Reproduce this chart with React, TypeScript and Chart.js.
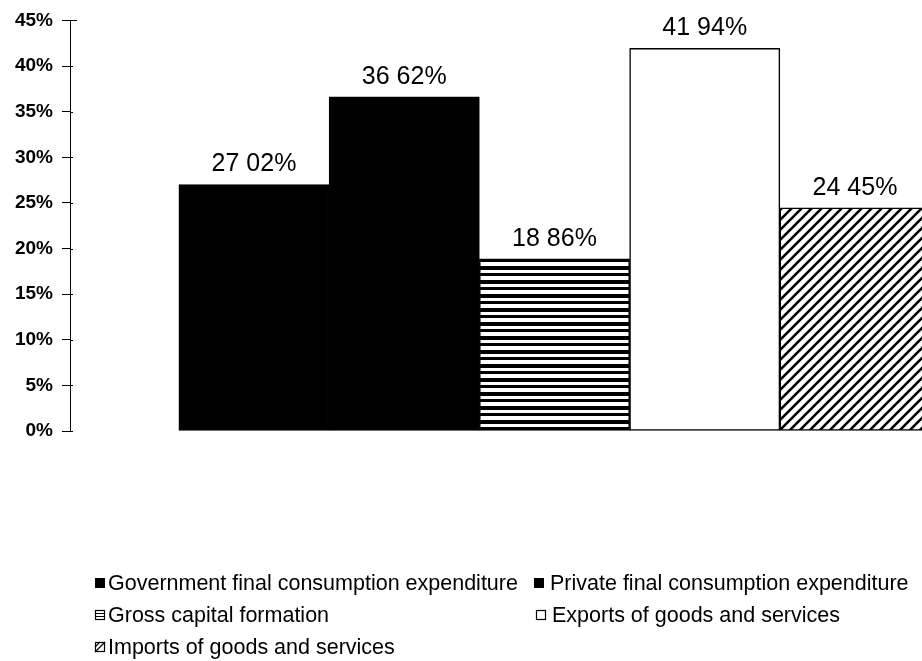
import React, { useEffect, useRef } from "react";
import { Chart, registerables } from "chart.js";

Chart.register(...registerables);

// ---- data ----
const categories: string[] = [
  "Government final consumption expenditure",
  "Private final consumption expenditure",
  "Gross capital formation",
  "Exports of goods and services",
  "Imports of goods and services",
];
const shares: number[] = [27.02, 36.62, 18.86, 41.94, 24.45];
const yTicks: number[] = [0, 5, 10, 15, 20, 25, 30, 35, 40, 45];
const fillKinds: string[] = ["solid", "solid", "hstripe", "white", "hatch"];

const FONT = '"Liberation Sans", Arial, Helvetica, sans-serif';

const fmtLabel = (v: number) => v.toFixed(2).replace(".", " ") + "%";

function makeStripe(ctx: CanvasRenderingContext2D): CanvasPattern | string {
  const c = document.createElement("canvas");
  c.width = 8;
  c.height = 14;
  const g = c.getContext("2d")!;
  g.fillStyle = "#fff";
  g.fillRect(0, 0, 8, 14);
  g.fillStyle = "#000";
  g.fillRect(0, 0, 8, 4);
  g.fillRect(0, 7, 8, 3);
  return ctx.createPattern(c, "repeat") || "#000";
}

function makeHatch(ctx: CanvasRenderingContext2D): CanvasPattern | string {
  const c = document.createElement("canvas");
  c.width = 10;
  c.height = 10;
  const g = c.getContext("2d")!;
  g.fillStyle = "#fff";
  g.fillRect(0, 0, 10, 10);
  g.strokeStyle = "#000";
  g.lineWidth = 2.6;
  g.beginPath();
  g.moveTo(-2, 12);
  g.lineTo(12, -2);
  g.moveTo(-2, 2);
  g.lineTo(2, -2);
  g.moveTo(8, 12);
  g.lineTo(12, 8);
  g.stroke();
  return ctx.createPattern(c, "repeat") || "#000";
}

function fillFor(kind: string, ctx: CanvasRenderingContext2D) {
  if (kind === "solid") return "#000";
  if (kind === "white") return "#fff";
  if (kind === "hstripe") return makeStripe(ctx);
  return makeHatch(ctx);
}

function drawSwatch(ctx: CanvasRenderingContext2D, kind: string, x: number, y: number) {
  const s = 10;
  const top = y - s / 2;
  ctx.save();
  ctx.lineWidth = 1.2;
  ctx.strokeStyle = "#000";
  if (kind === "solid") {
    ctx.fillStyle = "#000";
    ctx.fillRect(x, top, s, s);
  } else {
    ctx.fillStyle = "#fff";
    ctx.fillRect(x, top, s, s);
    ctx.strokeRect(x + 0.5, top + 0.5, s - 1, s - 1);
    if (kind === "hstripe") {
      ctx.beginPath();
      ctx.moveTo(x, top + 3.5);
      ctx.lineTo(x + s, top + 3.5);
      ctx.moveTo(x, top + 6.5);
      ctx.lineTo(x + s, top + 6.5);
      ctx.stroke();
    } else if (kind === "hatch") {
      ctx.beginPath();
      ctx.moveTo(x, top + s);
      ctx.lineTo(x + s, top);
      ctx.moveTo(x, top + s / 2);
      ctx.lineTo(x + s / 2, top);
      ctx.stroke();
    }
  }
  ctx.restore();
}

const legendPlugin = {
  id: "customLegend",
  afterDraw(chart: any) {
    const ctx: CanvasRenderingContext2D = chart.ctx;
    const slots = [
      { sx: 95, tx: 108, y: 583 },
      { sx: 534, tx: 550, y: 583 },
      { sx: 95, tx: 108, y: 615 },
      { sx: 536, tx: 552, y: 615 },
      { sx: 95, tx: 108, y: 647 },
    ];
    ctx.save();
    ctx.font = `21.5px ${FONT}`;
    ctx.textBaseline = "middle";
    ctx.textAlign = "left";
    ctx.fillStyle = "#000";
    categories.forEach((name, i) => {
      const s = slots[i];
      drawSwatch(ctx, fillKinds[i], s.sx, s.y);
      ctx.fillText(name, s.tx, s.y + 1);
    });
    ctx.restore();
  },
};

const valueLabelPlugin = {
  id: "valueLabels",
  afterDatasetsDraw(chart: any) {
    const ctx: CanvasRenderingContext2D = chart.ctx;
    const meta = chart.getDatasetMeta(0);
    ctx.save();
    ctx.font = `25px ${FONT}`;
    ctx.fillStyle = "#000";
    ctx.textAlign = "center";
    ctx.textBaseline = "alphabetic";
    meta.data.forEach((bar: any, i: number) => {
      ctx.fillText(fmtLabel(shares[i]), bar.x, bar.y - 13);
    });
    ctx.restore();
  },
};

const crossTickPlugin = {
  id: "crossTicks",
  afterDraw(chart: any) {
    const ctx: CanvasRenderingContext2D = chart.ctx;
    const y = chart.scales.y;
    const left = chart.chartArea.left;
    ctx.save();
    ctx.strokeStyle = "#000";
    ctx.lineWidth = 1;
    yTicks.forEach((v, i) => {
      const py = Math.round(y.getPixelForValue(v)) + 0.5;
      ctx.beginPath();
      ctx.moveTo(left, py);
      ctx.lineTo(left + (i === yTicks.length - 1 ? 7 : 3), py);
      ctx.stroke();
    });
    ctx.restore();
  },
};

export default function App() {
  const ref = useRef<HTMLCanvasElement | null>(null);

  useEffect(() => {
    const canvas = ref.current;
    if (!canvas) return;
    const ctx = canvas.getContext("2d")!;
    const colors = fillKinds.map((k) => fillFor(k, ctx));

    const chart = new Chart(canvas, {
      type: "bar",
      data: {
        datasets: [
          {
            label: "Share",
            data: shares.map((v, i) => ({ x: i, y: v })),
            backgroundColor: colors as any,
            borderColor: "#000",
            borderWidth: 1.5,
            borderSkipped: false,
            categoryPercentage: 1,
            barPercentage: 1,
          } as any,
        ],
      },
      options: {
        animation: false,
        responsive: false,
        layout: { padding: { top: 20, bottom: 230, left: 0, right: 0 } },
        plugins: {
          legend: { display: false },
          tooltip: { enabled: false },
        },
        scales: {
          x: {
            type: "linear",
            min: -1.2246,
            max: 4.446,
            offset: false,
            display: false,
            grid: { offset: false },
            afterBuildTicks(scale: any) {
              scale.ticks = shares.map((_, i) => ({ value: i }));
            },
          },
          y: {
            min: 0,
            max: 45,
            afterFit(scale: any) {
              scale.width = 70;
            },
            afterBuildTicks(scale: any) {
              scale.ticks = yTicks.map((v) => ({ value: v }));
            },
            ticks: {
              color: "#000",
              padding: 9,
              font: { family: FONT, size: 19, weight: "bold" },
              callback: (v: any) => `${v}%`,
            },
            grid: {
              drawOnChartArea: false,
              drawTicks: true,
              tickLength: 8,
              color: "#000",
            },
            border: { color: "#000", width: 1 },
          },
        },
      } as any,
      plugins: [valueLabelPlugin, legendPlugin, crossTickPlugin],
    });

    return () => chart.destroy();
  }, []);

  return (
    <div style={{ position: "fixed", left: 0, top: 0, width: 922, height: 661, background: "#fff" }}>
      <canvas ref={ref} width={922} height={661} style={{ display: "block" }} />
    </div>
  );
}
